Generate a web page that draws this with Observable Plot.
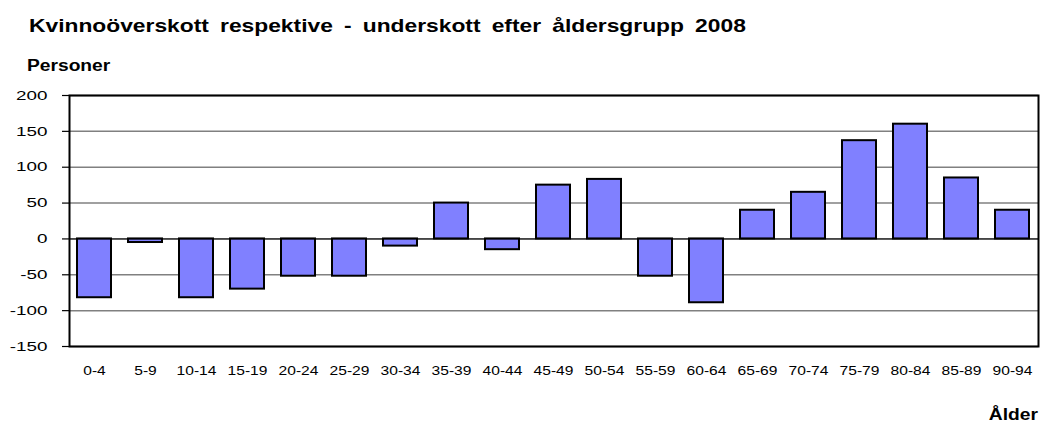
<!DOCTYPE html>
<html>
<head>
<meta charset="utf-8">
<script src="https://cdn.jsdelivr.net/npm/d3@7"></script>
<script src="https://cdn.jsdelivr.net/npm/@observablehq/plot@0.6"></script>
<style>
  html, body { margin: 0; padding: 0; background: #fff; }
  #wrap { position: relative; width: 1041px; height: 423px; font-family: "Liberation Sans", Arial, sans-serif; color: #000; }
  #wrap svg { position: absolute; left: 0; top: 0; }
  .lbl { position: absolute; font-weight: bold; line-height: 1; white-space: pre; }
  #title { left: 29px; top: 15.5px; font-size: 19px; word-spacing: 4px; transform: scaleX(1.2); transform-origin: left center; }
  #ylab { left: 27px; top: 57.5px; font-size: 16px; transform: scaleX(1.2); transform-origin: left center; }
  #xlab { right: 3px; top: 407px; font-size: 16px; transform: scaleX(1.2); transform-origin: right center; }
</style>
</head>
<body>
<div id="wrap">
  <div class="lbl" id="title">Kvinnoöverskott respektive - underskott efter åldersgrupp 2008</div>
  <div class="lbl" id="ylab">Personer</div>
  <div class="lbl" id="xlab">Ålder</div>
</div>
<script>
const ageGroups = ["0-4","5-9","10-14","15-19","20-24","25-29","30-34","35-39","40-44","45-49","50-54","55-59","60-64","65-69","70-74","75-79","80-84","85-89","90-94"];
const surplus = [-82, -5, -82, -70, -52, -52, -10, 50, -15, 75, 83, -52, -89, 40, 65, 137, 160, 85, 40];
const yTicks = [-150, -100, -50, 0, 50, 100, 150, 200];

const data = ageGroups.map((g, i) => ({group: g, value: surplus[i]}));

const chart = Plot.plot({
  width: 1041,
  height: 423,
  marginTop: 95,
  marginBottom: 77,
  marginLeft: 69,
  marginRight: 3,
  style: {fontFamily: "'Liberation Sans', Arial, sans-serif", color: "#000", background: "transparent"},
  x: {domain: ageGroups, paddingInner: 0.33, paddingOuter: 0.165, label: null},
  y: {domain: [-150, 200], label: null},
  marks: [
    Plot.gridY(yTicks, {stroke: "#808080", strokeOpacity: 1, strokeWidth: 1.5}),
    Plot.barY(data, {x: "group", y: "value", fill: "#8080ff", stroke: "#000", strokeWidth: 2}),
    Plot.ruleY([0], {stroke: "#000", strokeWidth: 1}),
    Plot.frame({stroke: "#000", strokeWidth: 2}),
    Plot.axisY(yTicks, {tickSize: 7, tickPadding: 15, fontSize: 13, label: null, stroke: "#000", strokeWidth: 1.2, tickFormat: d => String(d)}),
    Plot.axisX({tickSize: 0, tickPadding: 20, fontSize: 12, label: null})
  ]
});
document.getElementById("wrap").appendChild(chart);

// the reference lettering is horizontally wide: stretch the axis labels
function stretch(sel, s) {
  chart.querySelectorAll(sel).forEach(t => {
    const tr = t.getAttribute("transform");
    if (tr) {
      t.setAttribute("transform", tr + ` scale(${s},1)`);
    } else {
      const x = +(t.getAttribute("x") || 0), y = +(t.getAttribute("y") || 0);
      t.removeAttribute("x"); t.removeAttribute("y");
      t.setAttribute("transform", `translate(${x},${y}) scale(${s},1)`);
    }
  });
}
stretch("g[aria-label='y-axis tick label'] text", 1.45);
stretch("g[aria-label='x-axis tick label'] text", 1.3);
</script>
</body>
</html>
